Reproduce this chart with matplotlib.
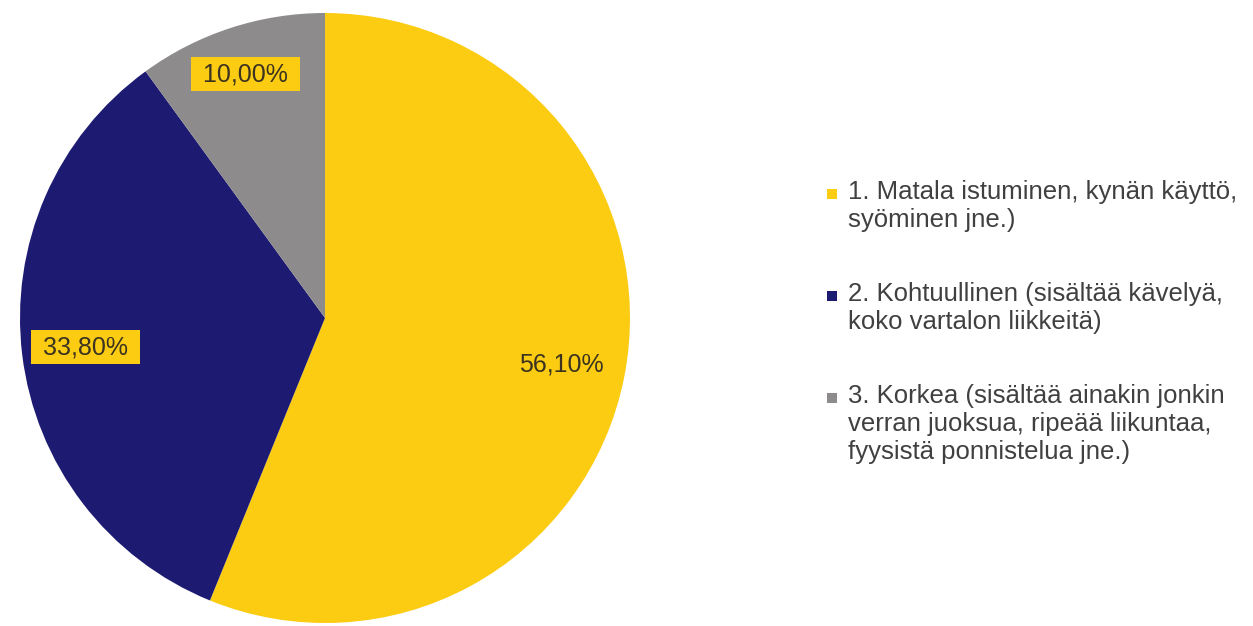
import matplotlib.pyplot as plt
import numpy as np
from matplotlib.patches import Rectangle

plt.rcParams['font.family'] = ['Liberation Sans', 'DejaVu Sans']

# data
categories = ['1. Matala istuminen, kynän käyttö,\nsyöminen jne.)',
              '2. Kohtuullinen (sisältää kävelyä,\nkoko vartalon liikkeitä)',
              '3. Korkea (sisältää ainakin jonkin\nverran juoksua, ripeää liikuntaa,\nfyysistä ponnistelua jne.)']
shares = [56.1, 33.8, 10.0]
colors = ['#fccc12', '#1d1a72', '#8d8b8b']
label_dist = [0.79, 0.79, 0.84]
boxed = [False, True, True]

W, H = 1253, 626
fig = plt.figure(figsize=(W / 100, H / 100), dpi=100)

# pie area: centre (325, 318) px, radius 305 px
cx, cy, r = 325, 318, 305
ax = fig.add_axes([(cx - r) / W, (H - cy - r) / H, 2 * r / W, 2 * r / H])
wedges, _ = ax.pie(shares, colors=colors, startangle=90, counterclock=False,
                   wedgeprops=dict(linewidth=0))
ax.set_xlim(-1, 1)
ax.set_ylim(-1, 1)
ax.set_aspect('equal')
ax.axis('off')

for w, v, d, b in zip(wedges, shares, label_dist, boxed):
    ang = np.deg2rad((w.theta1 + w.theta2) / 2)
    txt = f'{v:.2f}%'.replace('.', ',')
    kw = dict(ha='center', va='center', fontsize=18, color='#3b3320')
    if b:
        txt = ' ' + txt + ' '
        kw['bbox'] = dict(boxstyle='square,pad=0.2', fc='#fccc12', ec='none')
    ax.text(d * np.cos(ang), d * np.sin(ang), txt, **kw)

# legend drawn by hand so the marker sits on the first line
lx, tx = 827, 848
y = 199          # baseline of first line, px from top
pitch = 28
for lab, col in zip(categories, colors):
    lines = lab.split('\n')
    fig.patches.append(Rectangle((lx / W, 1 - y / H), 10 / W, 10 / H,
                                 transform=fig.transFigure, fc=col, ec='none'))
    for i, line in enumerate(lines):
        fig.text(tx / W, 1 - (y + i * pitch) / H, line, fontsize=18.5,
                 color='#404040', ha='left', va='baseline')
    y += len(lines) * pitch + 46

fig.savefig('out.png', dpi=100, facecolor='white')
